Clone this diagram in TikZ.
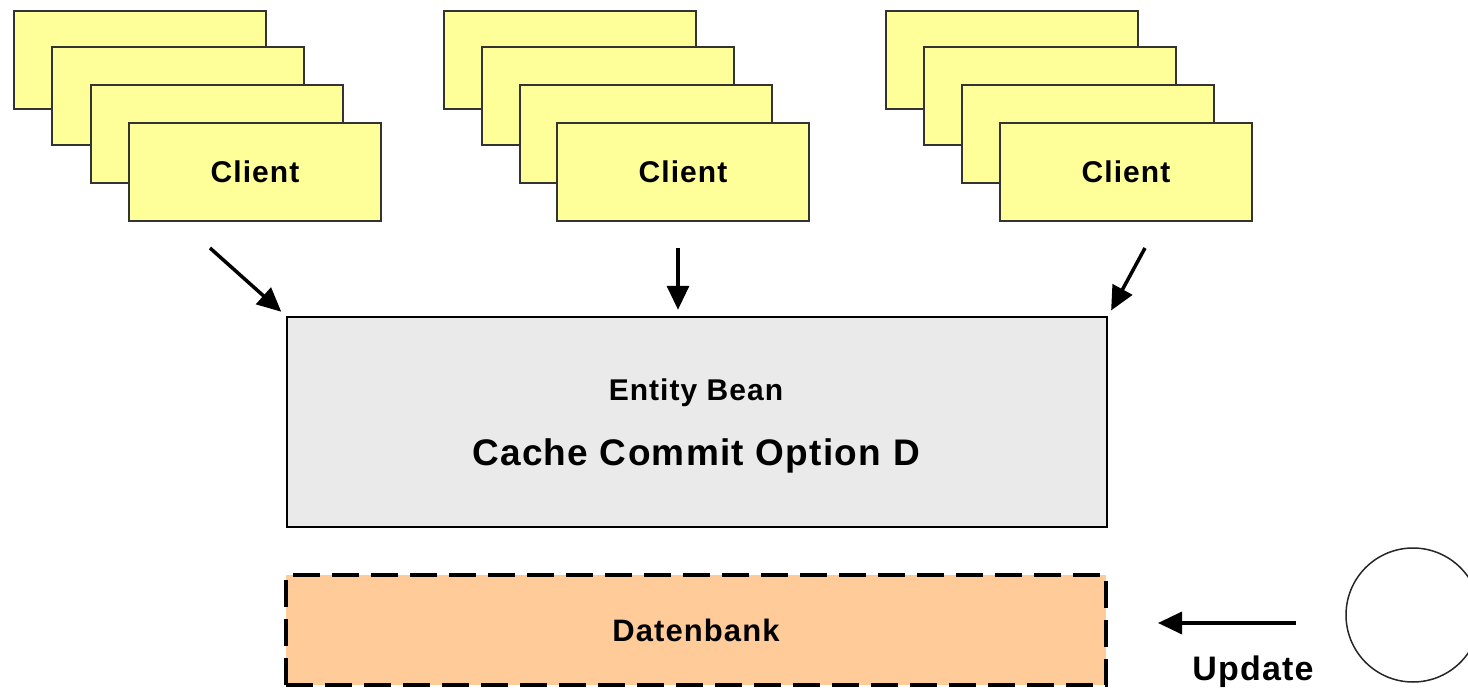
\documentclass[tikz,border=0pt]{standalone}
\usepackage{fontspec}
\setmainfont{Liberation Sans}[LetterSpace=3.5]
\usetikzlibrary{arrows.meta,positioning,calc}
\definecolor{cardyellow}{HTML}{FFFF99}
\definecolor{beangray}{HTML}{EAEAEA}
\definecolor{dbpeach}{HTML}{FFCC99}

\begin{document}
\begin{tikzpicture}[
  x=1pt, y=-1pt,
  card/.style={draw=black!80, line width=2pt, fill=cardyellow, minimum width=252pt, minimum height=98pt, inner sep=0pt,
    font=\fontsize{30}{36}\selectfont\bfseries},
  bean/.style={draw=black, line width=2.5pt, fill=beangray, minimum width=820pt, minimum height=210pt, inner sep=0pt},
  db/.style={draw=black, line width=4pt, dash pattern=on 27pt off 12pt, fill=dbpeach, minimum width=820pt, minimum height=110pt,
    inner sep=0pt, font=\fontsize{31}{37}\selectfont\bfseries},
  arr/.style={-{Triangle[length=24pt,width=22pt]}, line width=3.5pt}
]
\useasboundingbox (0,0) rectangle (1468,690);

% client stacks
\node[card] (c1a) at (140,60) {};
\node[card] (c1b) at (178,96) {};
\node[card] (c1c) at (217,134) {};
\node[card] (c1d) at (255,172) {Client};

\node[card] (c2a) at (570,60) {};
\node[card] (c2b) at (608,96) {};
\node[card] (c2c) at (646,134) {};
\node[card] (c2d) at (683,172) {Client};

\node[card] (c3a) at (1012,60) {};
\node[card] (c3b) at (1050,96) {};
\node[card] (c3c) at (1088,134) {};
\node[card] (c3d) at (1126,172) {Client};

% entity bean and database
\node[bean] (bean) at (697,422) {};
\node[font=\fontsize{30}{36}\selectfont\bfseries] (beanname) at (696,393) {Entity Bean};
\node[font=\fontsize{37}{44}\selectfont\bfseries] (option) at (696,456) {Cache Commit Option D};
\node[db] (datenbank) at (696,630) {Datenbank};

% external update
\node[draw=black!85, line width=1.5pt, circle, minimum size=134pt, inner sep=0pt] (extern) at (1413,615) {};
\node[font=\fontsize{34}{40}\selectfont\bfseries] (update) at (1253,672) {Update};

\coordinate (t1) at (210,248);
\coordinate (t2) at (678,248);
\coordinate (t3) at (1145,248);
\coordinate (u) at (1296,623);

\draw[arr, shorten >=6pt] (t1) -- (bean.north west);
\draw[arr, shorten >=6pt] (t2) -- (t2 |- bean.north);
\draw[arr, shorten >=6pt] (t3) -- (bean.north east);
\draw[arr, shorten >=50pt] (u) -- (u -| datenbank.east);
\end{tikzpicture}
\end{document}
